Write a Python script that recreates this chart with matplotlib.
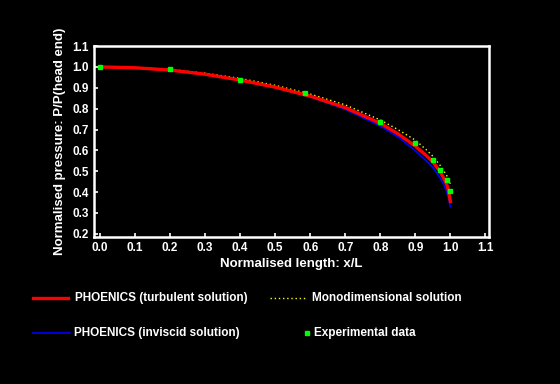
import matplotlib
matplotlib.use("Agg")
import matplotlib.pyplot as plt
from matplotlib.lines import Line2D

plt.rcParams['font.family'] = ['Liberation Sans', 'DejaVu Sans']

# --- data ---
x_curve = [0.0, 0.1, 0.2, 0.3, 0.4, 0.5, 0.6, 0.7, 0.8, 0.85, 0.9, 0.93,
           0.95, 0.97, 0.98, 0.99, 0.995, 1.0]
p_turbulent = [1.0, 0.996, 0.985, 0.965, 0.937, 0.903, 0.86, 0.805, 0.73,
               0.68, 0.62, 0.577, 0.545, 0.50, 0.47, 0.435, 0.405, 0.355]
p_inviscid = [1.0, 0.996, 0.985, 0.965, 0.937, 0.902, 0.857, 0.797, 0.717,
              0.665, 0.598, 0.552, 0.518, 0.47, 0.44, 0.40, 0.37, 0.33]
p_mono = [1.0, 0.997, 0.988, 0.97, 0.945, 0.912, 0.87, 0.818, 0.746,
          0.70, 0.649, 0.605, 0.572, 0.53, 0.505, 0.478, 0.46, 0.44]

x_exp = [0.0, 0.2, 0.4, 0.584, 0.8, 0.9, 0.95, 0.97, 0.99, 1.0]
p_exp = [1.0, 0.99, 0.935, 0.874, 0.738, 0.637, 0.556, 0.508, 0.46, 0.407]

xticks = [0.0, 0.1, 0.2, 0.3, 0.4, 0.5, 0.6, 0.7, 0.8, 0.9, 1.0, 1.1]
yticks = [0.2, 0.3, 0.4, 0.5, 0.6, 0.7, 0.8, 0.9, 1.0, 1.1]

W, H = 560, 384
DOTS = (0, (1, 2))
fig = plt.figure(figsize=(5.6, 3.84), dpi=100, facecolor='black')
ax = fig.add_axes([0.168, 0.383, 0.705, 0.497], facecolor='black')

l_turb, = ax.plot(x_curve, p_turbulent, color='#ff0000', lw=2.4, zorder=3,
                  label='PHOENICS (turbulent solution)')
l_inv, = ax.plot(x_curve, p_inviscid, color='#0000ff', lw=1.2, zorder=2,
                 label='PHOENICS (inviscid solution)')
l_mono, = ax.plot(x_curve, p_mono, color='#ffff00', lw=1.0, ls=DOTS,
                  zorder=1, label='Monodimensional solution')
l_exp, = ax.plot(x_exp, p_exp, ls='none', marker='s', ms=3.2, color='#00ff00',
                 mec='#00ff00', zorder=4, label='Experimental data')

ax.set_xlim(-0.017, 1.11)
ax.set_ylim(0.185, 1.1)
ax.set_xticks(xticks)
ax.set_yticks(yticks)
ax.set_xticklabels([f"{v:.1f}" for v in xticks])
ax.set_yticklabels([f"{v:.1f}" for v in yticks])

for s in ax.spines.values():
    s.set_color('white')
    s.set_linewidth(1.8)
ax.tick_params(colors='white', direction='in', length=3, width=1.2,
               labelsize=8.5)
for t in ax.get_xticklabels() + ax.get_yticklabels():
    t.set_fontweight('bold')

ax.set_xlabel('Normalised length: x/L', color='white', fontsize=9.5,
              fontweight='bold', labelpad=3)
ax.set_ylabel('Normalised pressure: P/P(head end)', color='white',
              fontsize=9.5, fontweight='bold', labelpad=5)

# --- legend, drawn by hand below the plot (pixel positions) ---
def fx(px):
    return px / W

def fy(py):
    return 1 - py / H

legend_items = [
    (l_turb, 33, 68, 298, 75, '-'),
    (l_mono, 270, 305, 298, 312, DOTS),
    (l_inv, 33, 70, 333, 74, '-'),
    (l_exp, 307, 307, 333, 314, None),
]
for line, x0, x1, y, tx, ls in legend_items:
    if ls is None:
        fig.add_artist(Line2D([fx(x0)], [fy(y)], transform=fig.transFigure,
                              ls='none', marker='s', ms=3, color='#00ff00'))
    else:
        fig.add_artist(Line2D([fx(x0), fx(x1)], [fy(y), fy(y)],
                              transform=fig.transFigure,
                              color=line.get_color(), lw=line.get_linewidth(),
                              ls=ls))
    fig.text(fx(tx), fy(y), line.get_label(), color='white', fontsize=8.5,
             fontweight='bold', va='center', ha='left')

fig.savefig('out.png', dpi=100, facecolor='black')
